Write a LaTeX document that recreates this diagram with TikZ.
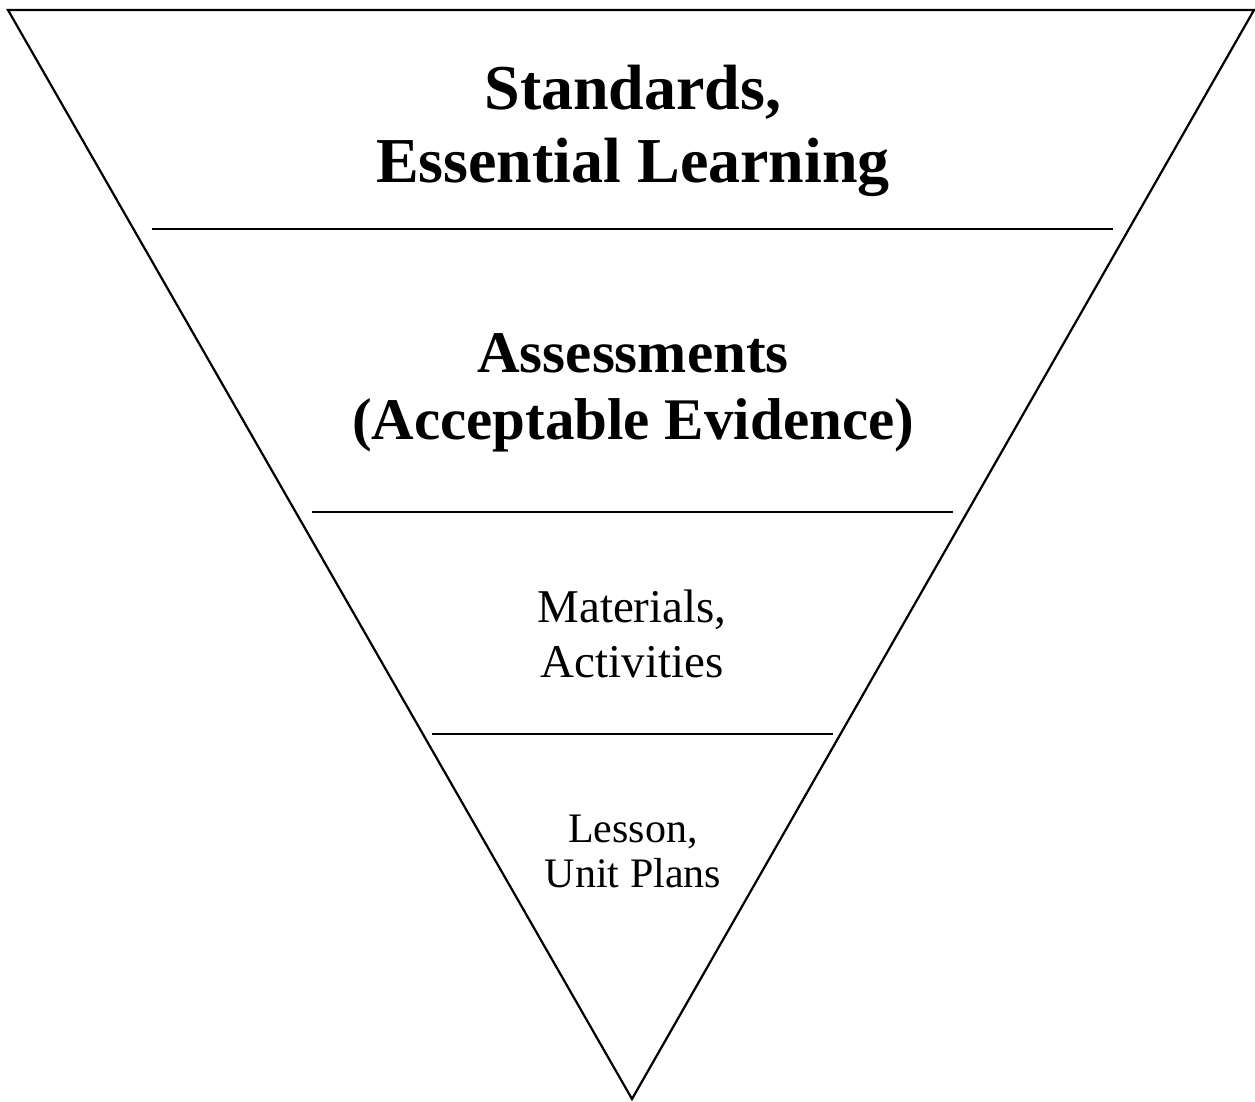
\documentclass[tikz,border=0pt]{standalone}
\usepackage{fontspec}
\setmainfont{Liberation Serif}
\begin{document}
\begin{tikzpicture}[x=1pt,y=-1pt,
  edge/.style={line width=2.2pt,line cap=butt,line join=miter},
  divider/.style={line width=2.2pt},
  label/.style={align=center,inner sep=0pt}]
\useasboundingbox (0,0) rectangle (1255,1101);
% inverted triangle
\coordinate (tl) at (8,10);
\coordinate (tr) at (1254,10);
\coordinate (apex) at (632,1099);
\draw[edge] (tl) -- (tr) -- (apex) -- cycle;
% dividing lines
\coordinate (d1l) at (152,229); \coordinate (d1r) at (1113,229);
\coordinate (d2l) at (312,512); \coordinate (d2r) at (953,512);
\coordinate (d3l) at (432,734); \coordinate (d3r) at (833,734);
\draw[divider] (d1l) -- (d1r);
\draw[divider] (d2l) -- (d2r);
\draw[divider] (d3l) -- (d3r);
% layer labels
\node[label,font=\fontsize{64}{73}\selectfont\bfseries] (std) at (633,131) {Standards,\\Essential Learning};
\node[label,font=\fontsize{59}{67}\selectfont\bfseries] (asm) at (633,393) {Assessments\\(Acceptable Evidence)};
\node[label,font=\fontsize{47}{55}\selectfont] (mat) at (632,634) {Materials,\\Activities};
\node[label,font=\fontsize{42}{45}\selectfont] (les) at (633,851) {Lesson,\\Unit Plans};
\end{tikzpicture}
\end{document}
